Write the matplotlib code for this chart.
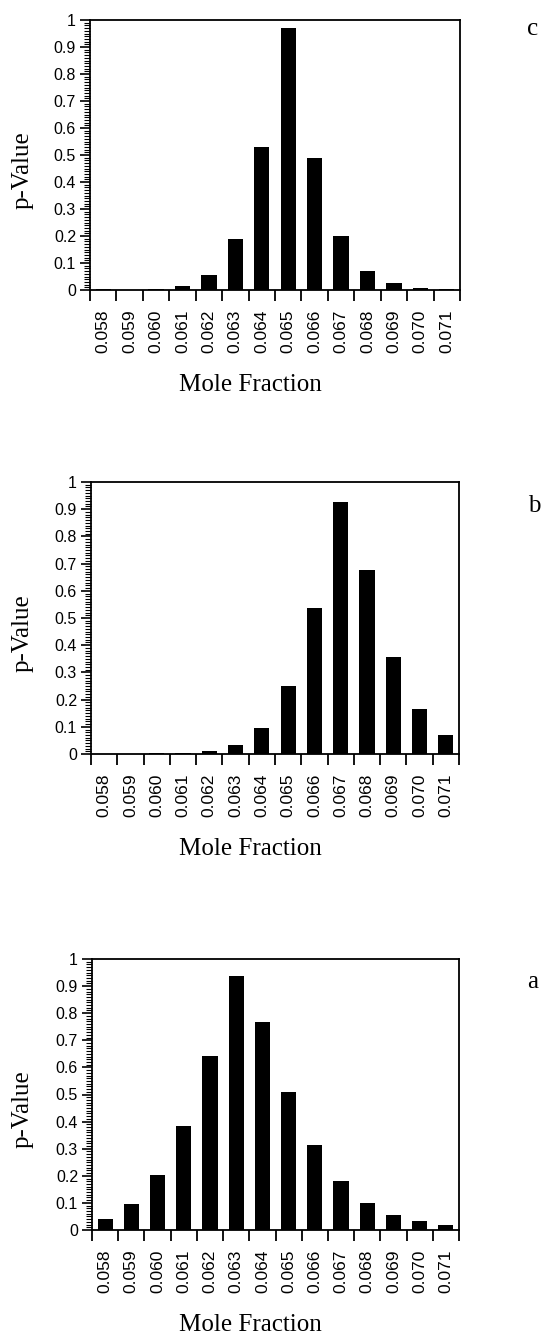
import matplotlib
matplotlib.use("Agg")
import matplotlib.pyplot as plt
from matplotlib.ticker import MultipleLocator, FixedLocator

categories = ["0.058", "0.059", "0.060", "0.061", "0.062", "0.063", "0.064",
              "0.065", "0.066", "0.067", "0.068", "0.069", "0.070", "0.071"]

p_values_c = [0.003, 0.001, 0.002, 0.015, 0.055, 0.19, 0.53,
              0.97, 0.49, 0.20, 0.07, 0.025, 0.009, 0.003]
p_values_b = [0.001, 0.001, 0.002, 0.004, 0.012, 0.034, 0.097,
              0.25, 0.535, 0.925, 0.675, 0.356, 0.165, 0.071]
p_values_a = [0.039, 0.095, 0.203, 0.385, 0.641, 0.937, 0.767,
              0.509, 0.314, 0.182, 0.098, 0.055, 0.032, 0.02]

y_ticks = [0, 0.1, 0.2, 0.3, 0.4, 0.5, 0.6, 0.7, 0.8, 0.9, 1]
y_tick_labels = ["0", "0.1", "0.2", "0.3", "0.4", "0.5", "0.6", "0.7", "0.8", "0.9", "1"]

panels = [("c", p_values_c), ("b", p_values_b), ("a", p_values_a)]

W, H = 545, 1339
fig = plt.figure(figsize=(W / 100, H / 100), dpi=100)

# axes boxes in pixels: (left, top, right, bottom)
boxes = [(90, 20, 460, 290), (91, 482, 459, 754), (92, 959, 459, 1230)]
letter_pos = [(527, 35), (528, 512), (527, 988)]

serif = ["Liberation Serif", "DejaVu Serif"]
sans = ["Liberation Sans", "DejaVu Sans"]

for (letter, vals), (l, t, r, b), (lx, ly) in zip(panels, boxes, letter_pos):
    ax = fig.add_axes([l / W, 1 - b / H, (r - l) / W, (b - t) / H])
    n = len(categories)
    xs = [i + 0.5 for i in range(n)]
    ax.bar(xs, vals, width=0.58, color="black", edgecolor="none")
    ax.set_xlim(0, n)
    ax.set_ylim(0, 1)

    # x: labels centered on bars, tick marks at category edges
    ax.xaxis.set_major_locator(FixedLocator(xs))
    ax.set_xticklabels(categories, rotation=90, family=sans, fontsize=12.5)
    ax.xaxis.set_minor_locator(FixedLocator(list(range(n + 1))))
    ax.tick_params(axis="x", which="major", length=0, pad=14)
    ax.tick_params(axis="x", which="minor", length=8, width=1.3, direction="out")

    # y
    ax.set_yticks(y_ticks)
    ax.set_yticklabels(y_tick_labels, family=sans, fontsize=11.5)
    ax.yaxis.set_minor_locator(MultipleLocator(0.01))
    ax.tick_params(axis="y", which="major", length=7, width=1.2, pad=3, direction="out")
    ax.tick_params(axis="y", which="minor", length=4, width=0.8, direction="out")

    for s in ax.spines.values():
        s.set_linewidth(1.3)
        s.set_color("black")

    ax.set_xlabel("Mole Fraction", family=serif, fontsize=18)
    ax.xaxis.set_label_coords((250 - l) / (r - l), -95 / (b - t) - 0.0)
    ax.xaxis.label.set_verticalalignment("center")
    ax.set_ylabel("p-Value", family=serif, fontsize=18)
    ax.yaxis.set_label_coords((23 - l) / (r - l), 0.5 - 15 / (b - t))
    ax.yaxis.label.set_verticalalignment("center")

    fig.text(lx / W, 1 - ly / H, letter, family=serif, fontsize=18,
             ha="left", va="baseline")

fig.savefig("out.png", dpi=100)
